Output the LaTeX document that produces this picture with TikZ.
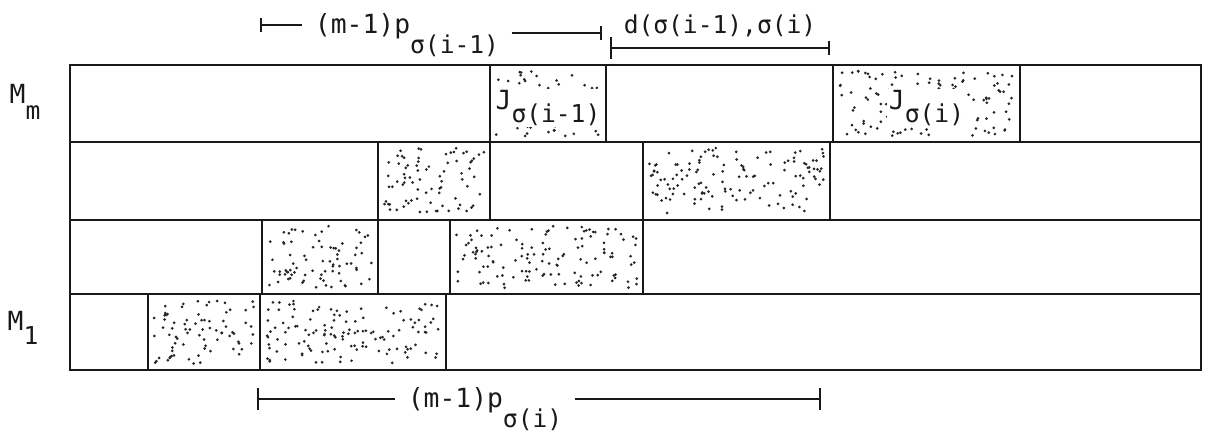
\documentclass[tikz,border=0pt]{standalone}
\usepackage{fontspec}
\newfontfamily\typerfont{DejaVu Sans Mono}
\usetikzlibrary{positioning, arrows.meta, fit}
\colorlet{ink}{black!90}
\colorlet{stip}{black!85}
% lowered (typewriter) subscript
\newcommand\lowsub[2][11pt]{\raisebox{-#1}{\fontsize{14}{14}\selectfont #2}}
% random stipple inside a block (pixel coordinates)
\newcommand\stipple[4]{%
  \pgfmathtruncatemacro\ndots{(#3-#1)/10*(#4-#2)/11}%
  \foreach \k in {1,...,\ndots}
    \fill[stip] ({#1+6+rnd*(#3-#1-12)},{#2+6+rnd*(#4-#2-12)}) circle (0.85pt);%
}
\tikzset{
  frame/.style   ={draw=ink, line width=1.3pt},
  jobbox/.style  ={draw=ink, line width=1.3pt, inner sep=0pt},
  lbl/.style     ={font=\typerfont\fontsize{15}{15}\selectfont,
                   text=ink, inner ysep=2pt, inner xsep=7pt},
  joblbl/.style  ={lbl, fill=white, inner sep=1pt},
  dimline/.style ={draw=ink, line width=1pt},
}

\begin{document}
\begin{tikzpicture}[x=0.02cm, y=-0.02cm]
\useasboundingbox (0,0) rectangle (1216,438);
\pgfmathsetseed{1942}

% machines and rows
\draw[frame] (70,65) rectangle (1201,370);
\foreach \y in {142,220,294}
  \draw[frame] (70,\y) -- (1201,\y);
\node[lbl] (Mm) at (25,102) {M\lowsub[9pt]{m}};
\node[lbl] (M1) at (23,328) {M\lowsub[8pt]{1}};

% operations of the two jobs
\foreach \nm/\xa/\ya/\xb/\yb in {
    Jprev/490/65/606/142, Jcur/833/65/1020/142,
    Aprev/378/142/490/220, Acur/643/142/830/220,
    Bprev/262/220/378/294, Bcur/450/220/643/294,
    Cprev/148/294/260/370, Ccur/260/294/446/370} {
  \stipple{\xa}{\ya}{\xb}{\yb}
  \node[jobbox, fit={(\xa,\ya) (\xb,\yb)}] (\nm) {};
}
\node[joblbl, anchor=base] (Jprevt) at (Jprev.center |- 0,110) {J\lowsub[7pt]{σ(i-1)}};
\node[joblbl, anchor=base] (Jcurt)  at (Jcur.center |- 0,110)  {J\lowsub[7pt]{σ(i)}};

% (m-1)p of job sigma(i-1)
\coordinate (ptl) at (260,25);
\coordinate (ptr) at (602,33);
\node[lbl] (Pprev) at (407,35) {(m-1)p\lowsub{σ(i-1)}};
\draw[dimline, {Bar[width=8pt, line width=1.4pt]}-] (ptl) -- (Pprev.west |- ptl);
\draw[dimline, -{Bar[width=8pt, line width=1.4pt]}] (Pprev.east |- ptr) -- (ptr);

% setup distance
\coordinate (dl) at (610,48);
\coordinate (dr) at (830,48);
\draw[dimline, {Bar[width=12pt, line width=1.4pt]}-{Bar[width=8pt, line width=1.4pt]}]
  (dl) -- (dr) node[lbl, midway, above=4pt, font=\typerfont\fontsize{14}{14}\selectfont]
  (Dlab) {d(σ(i-1),σ(i)};

% (m-1)p of job sigma(i)
\coordinate (pbl) at (257,399);
\coordinate (pbr) at (821,399);
\node[lbl] (Pcur) at (485,409) {(m-1)p\lowsub{σ(i)}};
\draw[dimline, {Bar[width=12pt, line width=1.4pt]}-] (pbl) -- (Pcur.west |- pbl);
\draw[dimline, -{Bar[width=12pt, line width=1.4pt]}] (Pcur.east |- pbr) -- (pbr);

\end{tikzpicture}
\end{document}
